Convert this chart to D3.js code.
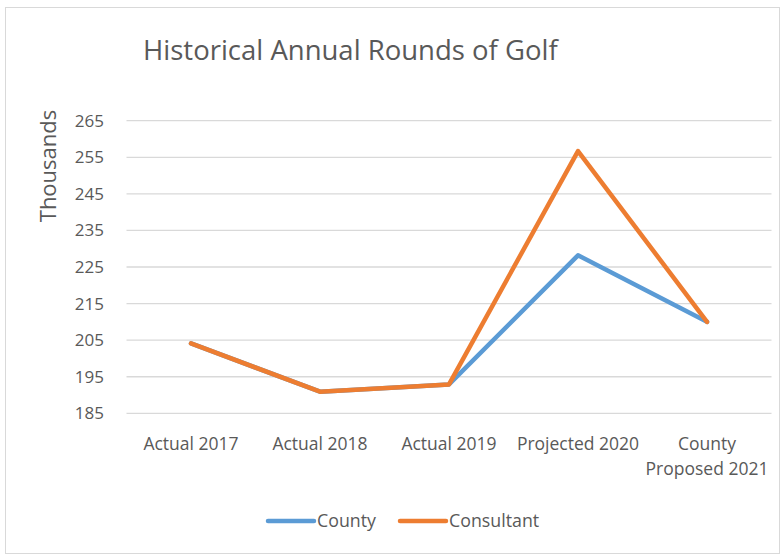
<html>
<head>
  <meta charset='utf-8' />
  <style>
    text { font-family: 'Open Sans', 'Noto Sans', sans-serif; fill: #595959; }
  </style>
</head>
<body style='padding: 0; margin: 0; background: white;'>
  <svg id='chart' width='783' height='556'></svg>
</body>
<script src="https://d3js.org/d3.v7.min.js"></script>
<script>
///////////////////
/// Data
///////////////////

  categories = ['Actual 2017', 'Actual 2018', 'Actual 2019', 'Projected 2020', 'County Proposed 2021'];
  categoryLines = [['Actual 2017'], ['Actual 2018'], ['Actual 2019'], ['Projected 2020'], ['County', 'Proposed 2021']];
  county = [204.1, 190.9, 192.9, 228.2, 210.0];
  consultant = [204.1, 190.9, 192.9, 256.7, 210.0];
  yTicks = [185, 195, 205, 215, 225, 235, 245, 255, 265];

  series = [
    { name: 'County', values: county, color: '#5B9BD5' },
    { name: 'Consultant', values: consultant, color: '#ED7D31' }
  ];

///////////////////
/// Setup
///////////////////

  svg = d3.select('#chart');

  svg.append('rect')
    .attr('x', 5.5).attr('y', 7.5)
    .attr('width', 774).attr('height', 546)
    .attr('fill', 'white')
    .attr('stroke', '#D9D9D9');

  scaleX = d3.scaleBand()
    .domain(categories)
    .range([126.5, 771.5]);

  scaleY = d3.scaleLinear()
    .domain([185, 265])
    .range([413.3, 120.7]);

  // gridlines
  svg.append('g')
    .selectAll('line')
    .data(yTicks)
    .enter().append('line')
    .attr('x1', 126.5)
    .attr('x2', 771.5)
    .attr('y1', d => scaleY(d))
    .attr('y2', d => scaleY(d))
    .attr('stroke', '#D9D9D9')
    .attr('stroke-width', 1.3);

  // y tick labels
  svg.append('g')
    .selectAll('text')
    .data(yTicks)
    .enter().append('text')
    .attr('x', 104)
    .attr('y', d => scaleY(d))
    .attr('dy', '0.35em')
    .attr('text-anchor', 'end')
    .style('font-size', '17px')
    .text(d => d);

  // x category labels
  xLabels = svg.append('g')
    .selectAll('text')
    .data(categories)
    .enter().append('text')
    .attr('x', d => scaleX(d) + scaleX.bandwidth() / 2)
    .attr('y', 450)
    .attr('text-anchor', 'middle')
    .style('font-size', '17.5px');

  xLabels.selectAll('tspan')
    .data((d, i) => categoryLines[i])
    .enter().append('tspan')
    .attr('x', function() { return d3.select(this.parentNode).attr('x'); })
    .attr('dy', (d, i) => i === 0 ? 0 : 25)
    .text(d => d);

  // lines
  line = d3.line()
    .x((d, i) => scaleX(categories[i]) + scaleX.bandwidth() / 2)
    .y(d => scaleY(d));

  svg.append('g')
    .selectAll('path')
    .data(series)
    .enter().append('path')
    .attr('fill', 'none')
    .attr('stroke', d => d.color)
    .attr('stroke-width', 4.5)
    .attr('stroke-linejoin', 'round')
    .attr('stroke-linecap', 'round')
    .attr('d', d => line(d.values));

/////////////////
// Titles and legend
/////////////////

  svg.append('text')
    .attr('x', 143)
    .attr('y', 60)
    .style('font-size', '27.5px')
    .text('Historical Annual Rounds of Golf');

  svg.append('text')
    .attr('transform', 'translate(56, 166) rotate(-90)')
    .attr('text-anchor', 'middle')
    .style('font-size', '22px')
    .text('Thousands');

  legendX = [268, 400];
  legend = svg.append('g')
    .selectAll('g')
    .data(series)
    .enter().append('g')
    .attr('transform', (d, i) => `translate(${legendX[i]}, 521)`);

  legend.append('line')
    .attr('x1', 0).attr('x2', 46)
    .attr('stroke', d => d.color)
    .attr('stroke-width', 4.5)
    .attr('stroke-linecap', 'round');

  legend.append('text')
    .attr('x', 49)
    .attr('dy', '0.35em')
    .style('font-size', '17.8px')
    .text(d => d.name);
</script>
</html>
